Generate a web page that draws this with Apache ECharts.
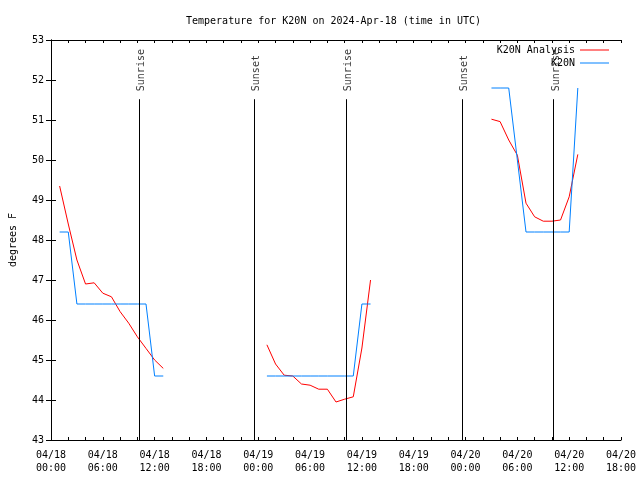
<!DOCTYPE html>
<html><head><meta charset="utf-8">
<script src="https://cdn.jsdelivr.net/npm/echarts@6/dist/echarts.min.js"></script>
<style>html,body{margin:0;padding:0;background:#fff}#c{width:640px;height:480px}</style>
</head><body><div id="c"></div>
<script>
// x values are hours since 04/18 00:00 UTC
const xTickLabels = ['04/18\n00:00','04/18\n06:00','04/18\n12:00','04/18\n18:00',
  '04/19\n00:00','04/19\n06:00','04/19\n12:00','04/19\n18:00',
  '04/20\n00:00','04/20\n06:00','04/20\n12:00','04/20\n18:00'];

const analysisHours1 = [1,2,3,4,5,6,7,8,9,10,11,12,13];
const analysisTemps1 = [49.35,48.4,47.5,46.9,46.93,46.67,46.58,46.21,45.92,45.58,45.29,45.0,44.79];
const analysisHours2 = [25,26,27,28,29,30,31,32,33,34,35,36,37];
const analysisTemps2 = [45.38,44.9,44.62,44.6,44.4,44.37,44.27,44.27,43.95,44.02,44.08,45.3,47.0];
const analysisHours3 = [51,52,53,54,55,56,57,58,59,60,61];
const analysisTemps3 = [51.02,50.96,50.5,50.12,48.92,48.58,48.47,48.47,48.5,49.08,50.14];

const obsHours1 = [1,2,3,4,5,6,7,8,9,10,11,12,13];
const obsTemps1 = [48.2,48.2,46.4,46.4,46.4,46.4,46.4,46.4,46.4,46.4,46.4,44.6,44.6];
const obsHours2 = [25,26,27,28,29,30,31,32,33,34,35,36,37];
const obsTemps2 = [44.6,44.6,44.6,44.6,44.6,44.6,44.6,44.6,44.6,44.6,44.6,46.4,46.4];
const obsHours3 = [51,52,53,54,55,56,57,58,59,60,61];
const obsTemps3 = [51.8,51.8,51.8,50.0,48.2,48.2,48.2,48.2,48.2,48.2,51.8];

const sunEventHours = [10.22, 23.53, 34.2, 47.63, 58.2];
const sunEventNames = ['Sunrise','Sunset','Sunrise','Sunset','Sunrise'];
const sunLineTop = 51.52;   // top of the event lines (deg F)
const sunLabelBase = 51.72; // where event label text starts (deg F)

const FONT = 'DejaVu Sans Mono';
const zip = (a, b) => a.map((v, i) => [v, b[i]]);

const analysisSegs = [zip(analysisHours1, analysisTemps1), zip(analysisHours2, analysisTemps2), zip(analysisHours3, analysisTemps3)];
const obsSegs = [zip(obsHours1, obsTemps1), zip(obsHours2, obsTemps2), zip(obsHours3, obsTemps3)];

const series = [];
// sun event lines + labels
series.push({
  type: 'scatter', name: 'sun', symbolSize: 0, silent: true, z: 1,
  data: sunEventHours.map((h, i) => ({ value: [h, sunLabelBase], name: sunEventNames[i] })),
  label: { show: true, formatter: p => p.name, rotate: 90, position: 'inside', align: 'left', verticalAlign: 'middle',
           offset: [0, 2.5], fontFamily: FONT, fontSize: 10, color: '#000' },
  markLine: {
    silent: true, symbol: 'none', label: { show: false },
    lineStyle: { color: '#000', width: 1, type: 'solid' },
    data: sunEventHours.map(h => [{ coord: [h, 43] }, { coord: [h, sunLineTop] }])
  }
});
analysisSegs.forEach(d => series.push({
  type: 'line', name: 'K20N Analysis', data: d, symbol: 'none', z: 3,
  lineStyle: { color: '#ff0000', width: 1 }, itemStyle: { color: '#ff0000' }
}));
obsSegs.forEach(d => series.push({
  type: 'line', name: 'K20N', data: d, symbol: 'none', z: 4,
  lineStyle: { color: '#0080ff', width: 1 }, itemStyle: { color: '#0080ff' }
}));

const axisLine = { show: true, lineStyle: { color: '#000', width: 1 } };
const chart = echarts.init(document.getElementById('c'), null, { renderer: 'canvas' });
chart.setOption({
  animation: false,
  backgroundColor: '#fff',
  title: {
    text: 'Temperature for K20N on 2024-Apr-18 (time in UTC)',
    left: 181, top: 11,
    textStyle: { fontFamily: FONT, fontSize: 10, fontWeight: 'normal', color: '#000' }
  },
  legend: {
    data: ['K20N Analysis', 'K20N'], orient: 'vertical', right: 26, top: 39,
    align: 'right', icon: 'rect', itemWidth: 29, itemHeight: 1, itemGap: 1,
    textStyle: { fontFamily: FONT, fontSize: 10, color: '#000', lineHeight: 12 }
  },
  grid: { left: 46, right: 19, top: 40, bottom: 40, containLabel: false },
  xAxis: [{
    type: 'value', min: 0, max: 66, interval: 2,
    axisLine: axisLine, splitLine: { show: false },
    axisTick: { show: true, inside: true, length: 3, lineStyle: { color: '#000' } },
    axisLabel: { margin: 9, fontFamily: FONT, fontSize: 10, color: '#000', lineHeight: 13,
      showMinLabel: true, showMaxLabel: true,
      formatter: v => (v % 6 === 0 ? xTickLabels[v / 6] : '') }
  }, {
    type: 'value', min: 0, max: 66, interval: 2, position: 'top',
    axisLine: axisLine, splitLine: { show: false },
    axisTick: { show: true, inside: true, length: 3, lineStyle: { color: '#000' } },
    axisLabel: { show: false }
  }],
  yAxis: [{
    type: 'value', min: 43, max: 53, interval: 1,
    name: 'degrees F', nameLocation: 'middle', nameGap: 33, nameRotate: 90,
    nameTextStyle: { fontFamily: FONT, fontSize: 10, color: '#000' },
    axisLine: axisLine, splitLine: { show: false },
    axisTick: { show: true, inside: true, length: 5, lineStyle: { color: '#000' } },
    axisLabel: { margin: 7, fontFamily: FONT, fontSize: 10, color: '#000' }
  }, {
    type: 'value', min: 43, max: 53, interval: 1, position: 'right',
    axisLine: axisLine, splitLine: { show: false },
    axisTick: { show: true, inside: true, length: 5, lineStyle: { color: '#000' } },
    axisLabel: { show: false }
  }],
  series: series
});
</script>
</body></html>
